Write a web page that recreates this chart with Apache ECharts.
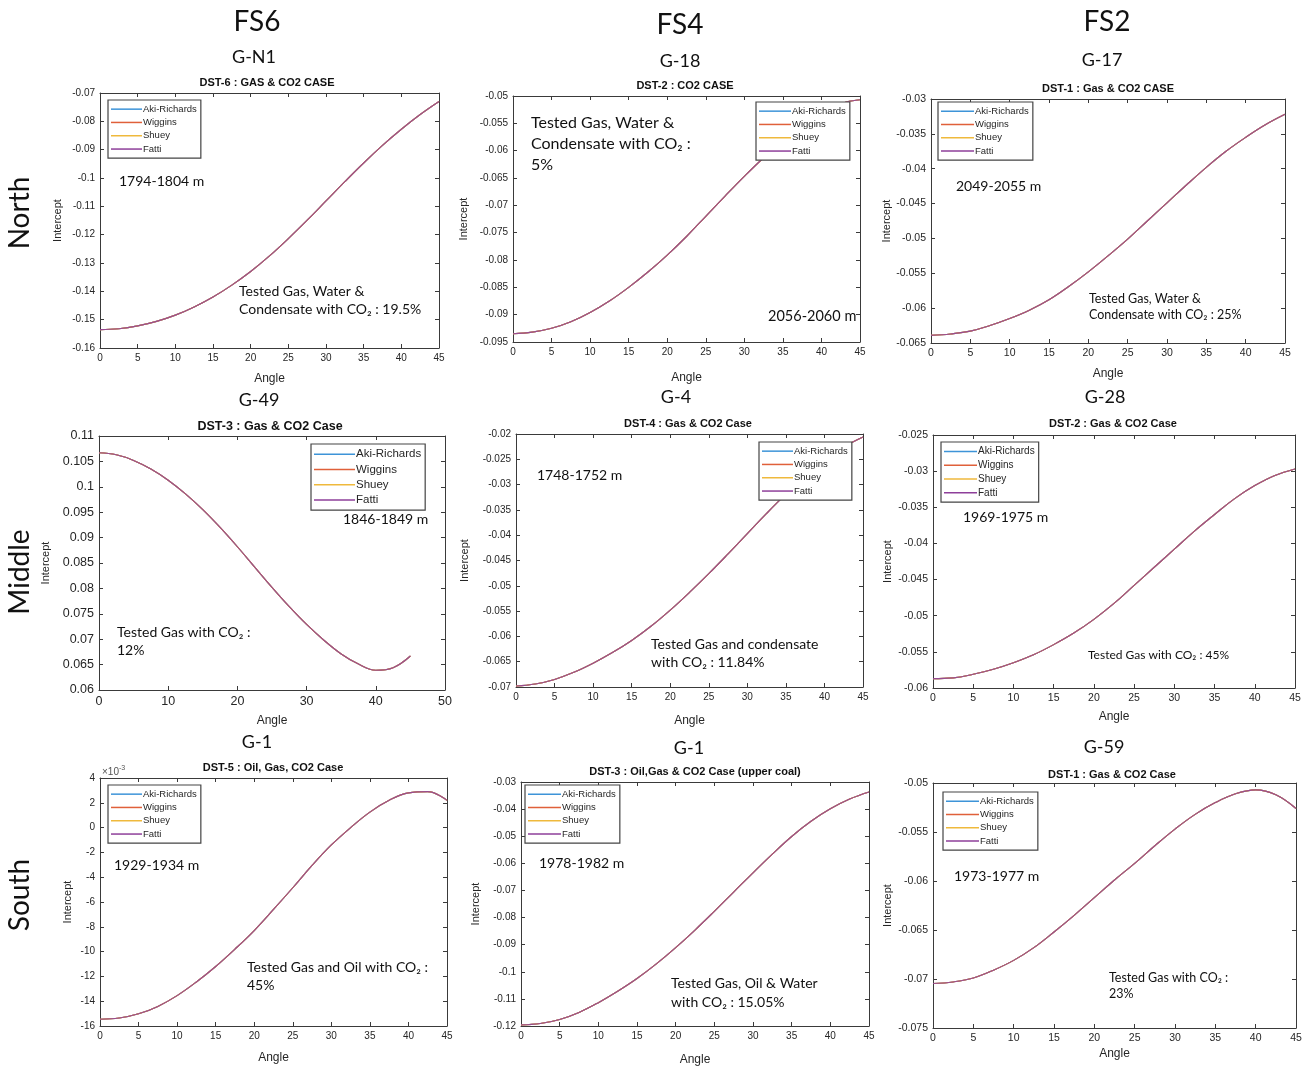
<!DOCTYPE html>
<html><head><meta charset="utf-8">
<script src="https://cdn.jsdelivr.net/npm/echarts@6/dist/echarts.min.js"></script>
<style>html,body{margin:0;padding:0;background:#fff}#c{width:1310px;height:1066px}</style>
</head><body><div id="c"></div>
<script>
// ---------- data ----------
const ANGLE = [0,2.5,5,7.5,10,12.5,15,17.5,20,22.5,25,27.5,30,32.5,35,37.5,40,42.5,45];
const SERIES_NAMES = ['Aki-Richards','Wiggins','Shuey','Fatti'];
const COLUMN_HEADS = ['FS6','FS4','FS2'];
const ROW_HEADS = ['North','Middle','South'];
const WELLS = ['G-N1','G-18','G-17','G-49','G-4','G-28','G-1','G-1','G-59'];
const TITLES = ['DST-6 : GAS & CO2 CASE','DST-2 : CO2 CASE','DST-1 : Gas & CO2 CASE',
  'DST-3 : Gas & CO2 Case','DST-4 : Gas & CO2 Case','DST-2 : Gas & CO2 Case',
  'DST-5 : Oil, Gas, CO2 Case','DST-3 : Oil,Gas & CO2 Case (upper coal)','DST-1 : Gas & CO2 Case'];
const DEPTHS = ['1794-1804 m','2056-2060 m','2049-2055 m','1846-1849 m','1748-1752 m','1969-1975 m','1929-1934 m','1978-1982 m','1973-1977 m'];
const NOTES = ['Tested Gas, Water &\nCondensate with CO\u2082 : 19.5%',
  'Tested Gas, Water &\nCondensate with CO\u2082 :\n5%',
  'Tested Gas, Water &\nCondensate with CO\u2082 : 25%',
  'Tested Gas with CO\u2082 :\n12%',
  'Tested Gas and condensate\nwith CO\u2082 : 11.84%',
  'Tested Gas with CO\u2082 : 45%',
  'Tested Gas and Oil with CO\u2082 :\n45%',
  'Tested Gas, Oil & Water\nwith CO\u2082 : 15.05%',
  'Tested Gas with CO\u2082 :\n23%'];

// intercept vs angle (all four methods overlap)
const GN1_DST6 = [-0.1535,-0.1532,-0.1522,-0.1506,-0.1484,-0.1455,-0.1420,-0.1378,-0.1330,-0.1275,-0.1214,-0.1149,-0.1081,-0.1013,-0.0947,-0.0885,-0.0828,-0.0776,-0.0730];
const G18_DST2 = [-0.0935,-0.0932,-0.0925,-0.0913,-0.0896,-0.0875,-0.0850,-0.0822,-0.0791,-0.0757,-0.0720,-0.0683,-0.0647,-0.0613,-0.0582,-0.0554,-0.0531,-0.0514,-0.0507];
const G17_DST1 = [-0.0639,-0.0637,-0.0633,-0.0625,-0.0615,-0.0603,-0.0588,-0.0569,-0.0548,-0.0525,-0.0501,-0.0475,-0.0449,-0.0423,-0.0398,-0.0375,-0.0355,-0.0337,-0.0322];
const G49_DST3 = [0.1067,0.1063,0.1052,0.1035,0.1013,0.0986,0.0955,0.0920,0.0882,0.0842,0.0802,0.0764,0.0729,0.0698,0.0671,0.0651,0.0639,0.0644,0.0667];
const G4_DST4  = [-0.0698,-0.0694,-0.0685,-0.0671,-0.0653,-0.0632,-0.0608,-0.0580,-0.0548,-0.0513,-0.0476,-0.0437,-0.0397,-0.0357,-0.0319,-0.0284,-0.0253,-0.0226,-0.0206];
const G28_DST2 = [-0.0587,-0.0586,-0.0581,-0.0574,-0.0565,-0.0554,-0.0540,-0.0524,-0.0505,-0.0483,-0.0458,-0.0433,-0.0408,-0.0383,-0.0360,-0.0338,-0.0320,-0.0306,-0.0297];
const G1_DST5_E3 = [-15.46,-15.36,-15.02,-14.42,-13.55,-12.45,-11.2,-9.8,-8.3,-6.6,-4.85,-3.05,-1.4,0.0,1.25,2.2,2.8,2.9,2.2]; // in units of 1e-3
const G1_DST3  = [-0.1196,-0.1191,-0.1176,-0.1150,-0.1114,-0.1072,-0.1025,-0.0971,-0.0911,-0.0846,-0.0777,-0.0706,-0.0635,-0.0566,-0.0501,-0.0445,-0.0399,-0.0363,-0.0337];
const G59_DST1 = [-0.07046,-0.0703,-0.0699,-0.0691,-0.0681,-0.0668,-0.0652,-0.0635,-0.0617,-0.0599,-0.0582,-0.0564,-0.0547,-0.0532,-0.0520,-0.0511,-0.0507,-0.0512,-0.0526];
const PANEL_VALUES = [GN1_DST6,G18_DST2,G17_DST1,G49_DST3,G4_DST4,G28_DST2,G1_DST5_E3,G1_DST3,G59_DST1];

// axis ranges [min,max,step]
const Y_RANGES = [[-0.16,-0.07,0.01],[-0.095,-0.05,0.005],[-0.065,-0.03,0.005],[0.06,0.11,0.005],[-0.07,-0.02,0.005],[-0.06,-0.025,0.005],[-16,4,2],[-0.12,-0.03,0.01],[-0.075,-0.05,0.005]];
const X_RANGES = [[0,45,5],[0,45,5],[0,45,5],[0,50,10],[0,45,5],[0,45,5],[0,45,5],[0,45,5],[0,45,5]];

// ---------- layout / style ----------
const LAYOUT = [
  {g:[100,93,339,255], t:[267,84,11], tick:10, yGap:37, xGap:25, lg:[108,100,31,9.5], dep:[119,181,14], note:[239,300,14,18], well:[254,57]},
  {g:[513,96,347,246], t:[685,87,11], tick:10, yGap:44, xGap:30, lg:[756,102,32,9.5], dep:[768,316,14.5], note:[531,144,16,21], well:[680,61]},
  {g:[931,99,354,244], t:[1108,90,11], tick:10.5, yGap:39, xGap:25, lg:[938,102,33,9.5], dep:[956,186,14], note:[1089,307,12.5,16.5], well:[1102,60]},
  {g:[99,436,346,254], t:[270,427,12.5], tick:12.5, yGap:48, xGap:25, lg:[311,444,41,11.5], dep:[343,519,14], note:[117,641,14,18], well:[259,400]},
  {g:[516,434,347,253], t:[688,425,11], tick:10, yGap:46, xGap:28, lg:[759,442,31,9.5], dep:[537,475,14], note:[651,653,14,18], well:[676,397]},
  {g:[933,435,362,253], t:[1113,425,11], tick:10.5, yGap:40, xGap:23, lg:[941,442,33,10], dep:[963,517,14], note:[1088,655,12,16], well:[1105,397]},
  {g:[100,778,347,248], t:[273,769,11], tick:10, yGap:27, xGap:26, lg:[108,785,31,9.5], dep:[114,865,14], note:[247,976,14,18], well:[257,742]},
  {g:[521,782,348,244], t:[695,773,11], tick:10, yGap:40, xGap:28, lg:[525,785,33,9.5], dep:[539,863,14], note:[671,993,14,19], well:[689,748]},
  {g:[933,783,363,245], t:[1112,776,11], tick:10.5, yGap:40, xGap:20, lg:[943,792,33,9.5], dep:[954,876,14], note:[1109,986,12.5,16], well:[1104,747]}
];
const HEAD_POS = [[257,22],[680,25],[1107,22]];
const ROW_POS = [[20,213],[20,572],[20,895]];
const LINE_COLORS = ['#3d94d8','#e0603a','#efb93c','#8e3f9a'];
const FRAME = '#3a3a3a';
const TXT = '#262626';
const SANS = '"Liberation Sans", Arial, sans-serif';
const CAL = 'Lato, "Open Sans", sans-serif';

function fmt(v){ return String(+(+v).toFixed(4)); }

const grid=[], xAxis=[], yAxis=[], series=[], legend=[], title=[], graphic=[];
LAYOUT.forEach((L,i)=>{
  grid.push({left:L.g[0], top:L.g[1], width:L.g[2], height:L.g[3], outerBoundsMode:'none', containLabel:false});
  const xr = X_RANGES[i], yr = Y_RANGES[i];
  const axisLine = {show:true, onZero:false, lineStyle:{color:FRAME, width:1}};
  const axisTick = {show:true, inside:true, length:4, lineStyle:{color:FRAME, width:1}};
  xAxis.push({gridIndex:i, type:'value', position:'bottom', min:xr[0], max:xr[1], interval:xr[2],
    axisLine, axisTick, splitLine:{show:false},
    axisLabel:{fontSize:L.tick, color:TXT, fontFamily:SANS, margin:5, formatter:fmt},
    name:'Angle', nameLocation:'middle', nameGap:L.xGap, nameMoveOverlap:false,
    nameTextStyle:{fontSize:12, color:TXT, fontFamily:SANS}});
  xAxis.push({gridIndex:i, type:'value', position:'top', min:xr[0], max:xr[1], interval:xr[2],
    axisLine, axisTick, splitLine:{show:false}, axisLabel:{show:false}});
  yAxis.push({gridIndex:i, type:'value', position:'left', min:yr[0], max:yr[1], interval:yr[2],
    axisLine, axisTick, splitLine:{show:false},
    axisLabel:{fontSize:L.tick, color:TXT, fontFamily:SANS, margin:5, formatter:fmt},
    name:'Intercept', nameLocation:'middle', nameGap:L.yGap, nameRotate:90, nameMoveOverlap:false,
    nameTextStyle:{fontSize:11, color:TXT, fontFamily:SANS}});
  yAxis.push({gridIndex:i, type:'value', position:'right', min:yr[0], max:yr[1], interval:yr[2],
    axisLine, axisTick, splitLine:{show:false}, axisLabel:{show:false}});
  const pts = ANGLE.map((a,k)=>[a, PANEL_VALUES[i][k]]);
  SERIES_NAMES.forEach((nm,s)=>{
    series.push({type:'line', name:nm, xAxisIndex:2*i, yAxisIndex:2*i, data:pts,
      smooth:0.4, showSymbol:false, symbol:'none', silent:true,
      lineStyle:{color:LINE_COLORS[s], width:1.1, opacity: s===3?0.9:1},
      itemStyle:{color:LINE_COLORS[s]}, z:2+s});
  });
  legend.push({left:L.lg[0], top:L.lg[1], orient:'vertical', data:SERIES_NAMES.map(n=>({name:n, icon:'rect'})),
    itemWidth:L.lg[2], itemHeight:1.5, itemGap:1, padding:[3,4,3,3],
    backgroundColor:'#fff', borderColor:'#444', borderWidth:1.2, borderRadius:0, selectedMode:false,
    textStyle:{fontSize:L.lg[3], color:TXT, fontFamily:SANS, padding:[0,0,0,-4], lineHeight:L.lg[3]+2.8}, z:10});
  title.push({text:TITLES[i], left:L.t[0], top:L.t[1]-L.t[2]/2-1, textAlign:'center', padding:0,
    textStyle:{fontSize:L.t[2], fontWeight:'bold', color:'#111', fontFamily:SANS}});
  graphic.push({type:'text', x:L.well[0], y:L.well[1], style:{text:WELLS[i], font:'18px '+CAL, fill:'#111', align:'center', verticalAlign:'middle'}});
  graphic.push({type:'text', x:L.dep[0], y:L.dep[1], z:20, style:{text:DEPTHS[i], font:L.dep[2]+'px '+CAL, fill:'#111', align:'left', verticalAlign:'middle'}});
  graphic.push({type:'text', x:L.note[0], y:L.note[1], z:20, style:{text:NOTES[i], font:L.note[2]+'px '+CAL, lineHeight:L.note[3], fill:'#111', align:'left', verticalAlign:'middle'}});
});
COLUMN_HEADS.forEach((h,i)=>graphic.push({type:'text', x:HEAD_POS[i][0], y:HEAD_POS[i][1], style:{text:h, font:'28px '+CAL, fill:'#111', align:'center', verticalAlign:'middle'}}));
ROW_HEADS.forEach((h,i)=>graphic.push({type:'text', x:ROW_POS[i][0], y:ROW_POS[i][1], rotation:Math.PI/2, style:{text:h, font:'28px '+CAL, fill:'#111', align:'center', verticalAlign:'middle'}}));
// exponent label of the G-1 / DST-5 panel
graphic.push({type:'text', x:102, y:772, style:{text:'{a|\u00d710}{b|-3}', rich:{a:{fontSize:10, fontFamily:SANS, fill:'#555'}, b:{fontSize:7, fontFamily:SANS, fill:'#555', padding:[0,0,7,0]}}, verticalAlign:'middle'}});

const chart = echarts.init(document.getElementById('c'), null, {renderer:'canvas'});
chart.setOption({animation:false, backgroundColor:'#fff', grid, xAxis, yAxis, series, legend, title, graphic});
</script></body></html>
